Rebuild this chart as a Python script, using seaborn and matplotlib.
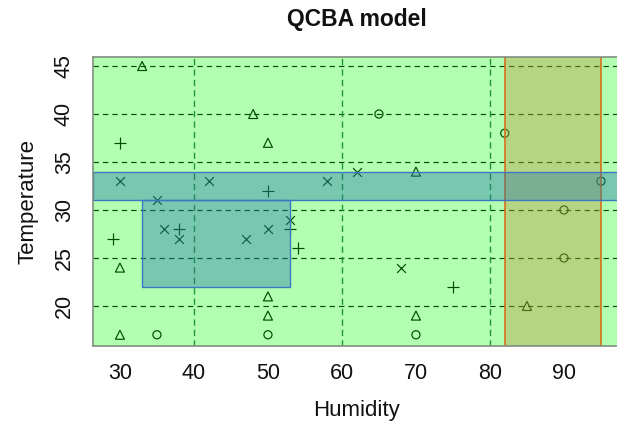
import matplotlib
matplotlib.use("Agg")
import matplotlib.pyplot as plt
import seaborn as sns
import pandas as pd
from matplotlib.patches import Rectangle

# ---------------- data ----------------
circle_hum = [65, 82, 95, 90, 90, 35, 50, 70]
circle_temp = [40, 38, 33, 30, 25, 17, 17, 17]
triangle_hum = [33, 48, 50, 70, 30, 85, 50, 50, 70, 30]
triangle_temp = [45, 40, 37, 34, 24, 20, 21, 19, 19, 17]
plus_hum = [30, 50, 38, 53, 54, 29, 75]
plus_temp = [37, 32, 28, 28, 26, 27, 22]
cross_hum = [30, 42, 58, 62, 35, 36, 38, 47, 50, 53, 68]
cross_temp = [33, 33, 33, 34, 31, 28, 27, 27, 28, 29, 24]

x_ticks = [30, 40, 50, 60, 70, 80, 90]
y_ticks = [20, 25, 30, 35, 40, 45]
x_grid = [40, 60, 80]
y_grid = [20, 25, 30, 35, 40, 45]

# rule regions
band_temp = (31, 34)                # temperature band, all humidity
box_hum = (33, 53)                  # box rule
box_temp = (22, 31)
vband_hum = (82, 95)                # humidity band, all temperature

title = "QCBA model"
xlabel = "Humidity"
ylabel = "Temperature"

# ---------------- styles ----------------
W, H = 617, 421
sns.set_style("white")
plt.rcParams["font.family"] = ["Liberation Sans", "DejaVu Sans"]

fig = plt.figure(figsize=(W / 100, H / 100), dpi=100)
ax = fig.add_axes([93 / W, (H - 346) / H, (620.5 - 93) / W, (346 - 57) / H])

# grid first (will be covered by translucent regions)
for yv in y_grid:
    ax.axhline(yv, color="black", lw=0.85, ls=(0, (4.5, 3.5)), zorder=1)
for xv in x_grid:
    ax.axvline(xv, color="#2f6a45", lw=1.0, ls=(0, (4.5, 3.0)), zorder=1)

# points
pts = [
    (circle_hum, circle_temp, "o", 34, dict(facecolor="none", edgecolor="black")),
    (triangle_hum, triangle_temp, "^", 42, dict(facecolor="none", edgecolor="black")),
    (plus_hum, plus_temp, "+", 70, dict()),
    (cross_hum, cross_temp, "x", 40, dict()),
]
for hx, ty, mk, sz, extra in pts:
    df = pd.DataFrame({"Humidity": hx, "Temperature": ty})
    sns.scatterplot(data=df, x="Humidity", y="Temperature", marker=mk, s=sz,
                    color="black", linewidth=0.85, ax=ax, zorder=2,
                    legend=False, **extra)

# default region: whole plot
ax.add_patch(Rectangle((0, 0), 1, 1, transform=ax.transAxes,
                       facecolor=(0.0, 1.0, 0.0, 0.30), edgecolor="none", zorder=3))
# humidity band
ax.axvspan(vband_hum[0], vband_hum[1], facecolor=(0.72, 0.60, 0.25, 0.40),
           edgecolor="none", zorder=4)
for xv in vband_hum:
    ax.axvline(xv, color="#d8701c", lw=1.2, zorder=4)
# temperature band
ax.axhspan(band_temp[0], band_temp[1], facecolor=(0.14, 0.46, 0.67, 0.40),
           edgecolor="#3b78c2", lw=1.0, zorder=5)
# box rule
ax.add_patch(Rectangle((box_hum[0], box_temp[0]), box_hum[1] - box_hum[0],
                       box_temp[1] - box_temp[0],
                       facecolor=(0.14, 0.46, 0.67, 0.40),
                       edgecolor="#3b78c2", lw=1.0, zorder=5))

ax.set_xlim(26.36, 97.64)
ax.set_ylim(15.83, 45.94)
ax.set_xticks(x_ticks)
ax.set_yticks(y_ticks)
ax.tick_params(axis="both", which="major", direction="out", length=6,
               width=0.9, color="#555555", labelsize=15.5, labelcolor="#111111")
ax.tick_params(axis="x", pad=6)
ax.tick_params(axis="y", pad=7)
for lab in ax.get_yticklabels():
    lab.set_rotation(90)
    lab.set_va("center")

for side in ["left", "top", "bottom"]:
    ax.spines[side].set_visible(True)
    ax.spines[side].set_color("#7f8f7f")
    ax.spines[side].set_linewidth(1.2)
    ax.spines[side].set_zorder(10)
ax.spines["right"].set_visible(False)

ax.set_xlabel(xlabel, fontsize=16, labelpad=12, color="#111111")
ax.set_ylabel(ylabel, fontsize=16, labelpad=11, color="#111111")
ax.set_title(title, fontsize=16.5, fontweight="bold", pad=22, color="#111111")

fig.savefig("out.png", dpi=100)
